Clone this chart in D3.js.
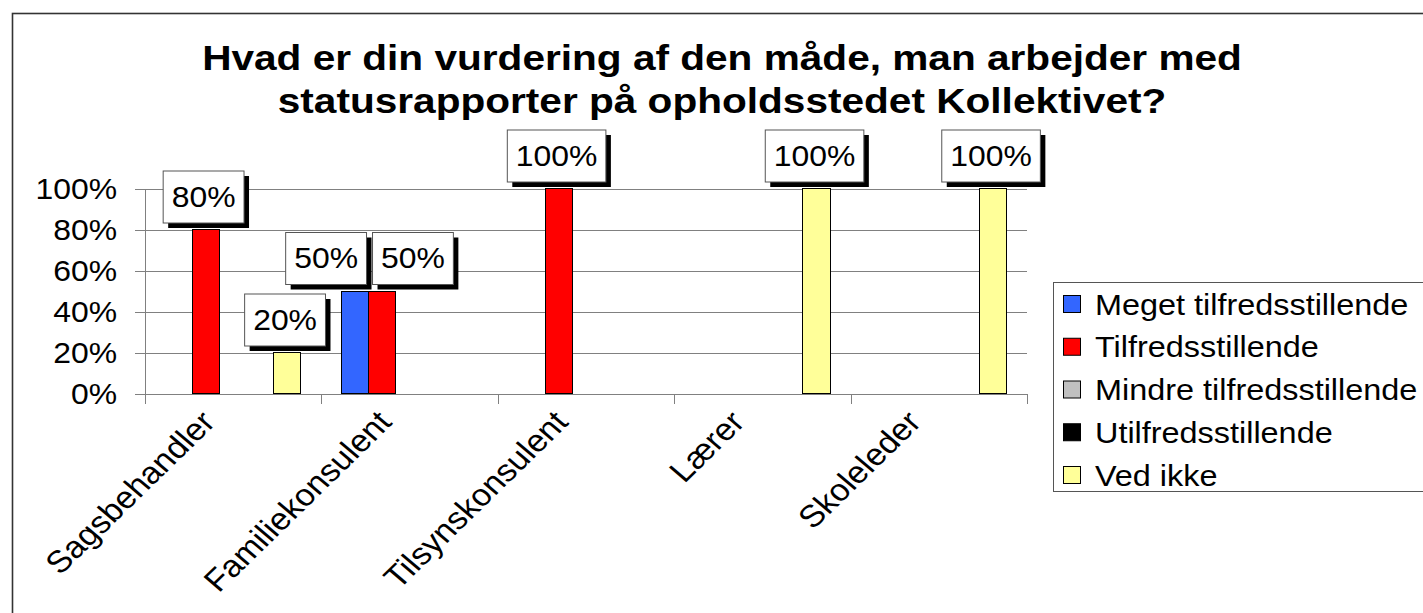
<!DOCTYPE html>
<html lang="da">
<head>
<meta charset="utf-8">
<title>Statusrapporter - Kollektivet</title>
<script src="https://cdn.jsdelivr.net/npm/d3@7"></script>
<style>
  body { margin: 0; background: #ffffff; }
  text { font-family: "Liberation Sans", Arial, Helvetica, sans-serif; fill: #000000; }
  .grille line { stroke: #808080; stroke-width: 1px; shape-rendering: crispEdges; }
  .grille path { display: none; }
  .axe line, .axe path { stroke: #808080; stroke-width: 1px; shape-rendering: crispEdges; }
  .barre { stroke: #000000; stroke-width: 1px; shape-rendering: crispEdges; }
</style>
</head>
<body>
<svg width="1423" height="613"></svg>
<script>
// données
const categories = ["Sagsbehandler", "Familiekonsulent", "Tilsynskonsulent", "Lærer", "Skoleleder"];
const series = ["Meget tilfredsstillende", "Tilfredsstillende", "Mindre tilfredsstillende", "Utilfredsstillende", "Ved ikke"];
const couleurs = ["#3366ff", "#ff0000", "#c0c0c0", "#000000", "#ffff99"];
// une ligne par série, une valeur par catégorie (null = pas de barre)
const valeurs = [
  [null, 0.5, null, null, null],
  [0.8, 0.5, 1.0, null, null],
  [null, null, null, null, null],
  [null, null, null, null, null],
  [0.2, null, null, 1.0, 1.0]
];
const ticksY = [0, 0.2, 0.4, 0.6, 0.8, 1.0];
const titre = ["Hvad er din vurdering af den måde, man arbejder med", "statusrapporter på opholdsstedet Kollektivet?"];

const sx = 1.1;          // étirement horizontal du texte
const police = 29;

const svg = d3.select("svg");

// cadre
svg.append("rect")
  .attr("x", 12.5).attr("y", 13.5).attr("width", 1440).attr("height", 640)
  .attr("fill", "#ffffff").attr("stroke", "#333333").attr("stroke-width", 1.6);

const x0 = d3.scaleBand().domain(categories).range([144.5, 1027]).paddingInner(0).paddingOuter(0);
const x1 = d3.scaleBand().domain(series).range([0, x0.bandwidth()]).paddingInner(0).paddingOuter(0.75);
const y = d3.scaleLinear().domain([0, 1]).range([393.5, 188.5]);

// grille horizontale
svg.append("g").classed("grille", true)
  .attr("transform", "translate(144.5,0)")
  .call(d3.axisLeft(y).tickValues(ticksY).tickFormat("").tickSize(-(1027 - 144.5)));

// axe des ordonnées
svg.append("g").classed("axe", true)
  .attr("transform", "translate(144.5,0)")
  .call(d3.axisLeft(y).tickValues(ticksY).tickFormat("").tickSize(10).tickSizeOuter(0));

svg.append("g").selectAll("text").data(ticksY).enter().append("text")
  .attr("text-anchor", "end")
  .attr("font-size", police)
  .attr("transform", d => `translate(117,${y(d) + 10}) scale(${sx},1)`)
  .text(d3.format(".0%"));

// axe des abscisses
svg.append("g").classed("axe", true)
  .attr("transform", `translate(0,${y(0)})`)
  .call(d3.axisBottom(d3.scaleLinear().domain([0, 5]).range([144.5, 1027]))
    .tickValues(d3.range(6)).tickFormat("").tickSize(10).tickSizeOuter(0));

// barres
const donnees = [];
series.forEach((s, i) => {
  categories.forEach((c, j) => {
    if (valeurs[i][j] !== null) donnees.push({ serie: s, categorie: c, valeur: valeurs[i][j], couleur: couleurs[i] });
  });
});

svg.append("g").selectAll("rect.barre").data(donnees).enter().append("rect")
  .classed("barre", true)
  .attr("x", d => x0(d.categorie) + x1(d.serie))
  .attr("width", x1.bandwidth())
  .attr("y", d => y(d.valeur))
  .attr("height", d => y(0) - y(d.valeur))
  .attr("fill", d => d.couleur);

// étiquettes de données
const etiq = svg.append("g");
const boites = donnees.map(d => {
  const g = etiq.append("g");
  const t = g.append("text").attr("font-size", police).attr("text-anchor", "middle").text(d3.format(".0%")(d.valeur));
  const w = t.node().getComputedTextLength() * sx + 17;
  return { d, g, t, w, cx: x0(d.categorie) + x1(d.serie) + x1.bandwidth() / 2 - 2 };
});
// écarter les étiquettes qui se chevauchent
boites.sort((a, b) => a.cx - b.cx);
for (let i = 1; i < boites.length; i++) {
  const a = boites[i - 1], b = boites[i];
  if (a.d.valeur === b.d.valeur && b.cx - a.cx < (a.w + b.w) / 2 + 6) {
    const m = (a.cx + b.cx) / 2 + 3;
    const e = (a.w + b.w) / 2 + 6;
    a.cx = m - e / 2; b.cx = m + e / 2;
  }
}
boites.forEach(b => {
  const bas = y(b.d.valeur) - 6.5, h = 52;
  b.g.insert("rect", "text")
    .attr("x", b.cx - b.w / 2 + 5).attr("y", bas - h + 5).attr("width", b.w).attr("height", h)
    .attr("fill", "#000000");
  b.g.insert("rect", "text")
    .attr("x", b.cx - b.w / 2).attr("y", bas - h).attr("width", b.w).attr("height", h)
    .attr("fill", "#ffffff").attr("stroke", "#555555").attr("stroke-width", 1);
  b.t.attr("transform", `translate(${b.cx},${bas - 16.5}) scale(${sx},1)`);
});

// libellés des catégories
svg.append("g").selectAll("text").data(categories).enter().append("text")
  .attr("text-anchor", "end")
  .attr("font-size", 31)
  .attr("transform", c => `translate(${x0(c) + x0.bandwidth() / 2 - 16},${y(0) + 30}) scale(${sx},1) rotate(-47)`)
  .text(c => c);

// titre
svg.append("g").selectAll("text").data(titre).enter().append("text")
  .attr("text-anchor", "middle")
  .attr("font-size", 35).attr("font-weight", "bold")
  .attr("transform", (t, i) => `translate(722,${69.5 + i * 43.5}) scale(1.16,1)`)
  .text(t => t);

// légende
const legende = svg.append("g");
legende.append("rect")
  .attr("x", 1053.5).attr("y", 282.5).attr("width", 420).attr("height", 209)
  .attr("fill", "#ffffff").attr("stroke", "#555555").attr("stroke-width", 1);
const ligne = d3.scalePoint().domain(series).range([304, 475]);
const entrees = legende.selectAll("g.entree").data(series).enter().append("g").classed("entree", true);
entrees.append("rect")
  .attr("x", 1063.5).attr("y", s => ligne(s) - 8.5).attr("width", 17).attr("height", 17)
  .attr("fill", (s, i) => couleurs[i]).attr("stroke", "#000000").attr("stroke-width", 1);
entrees.append("text")
  .attr("font-size", 30)
  .attr("transform", s => `translate(1095,${ligne(s) + 10.5}) scale(1.08,1)`)
  .text(s => s);
</script>
</body>
</html>
